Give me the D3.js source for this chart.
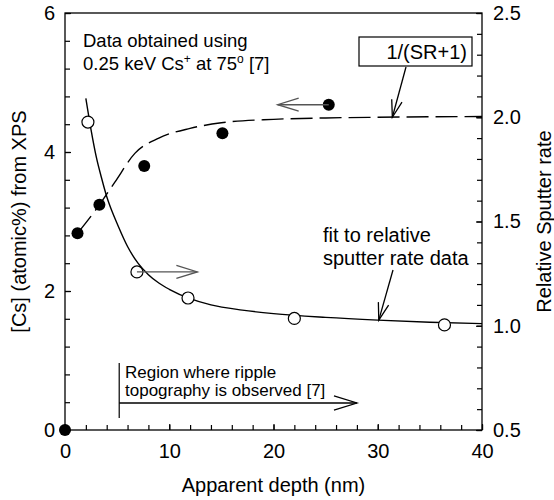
<!DOCTYPE html>
<html>
<head>
<meta charset="utf-8">
<script src="https://cdn.jsdelivr.net/npm/d3@7"></script>
<style>
  body { margin: 0; background: #fff; }
  text { font-family: "Liberation Sans", Arial, sans-serif; fill: #000; }
</style>
</head>
<body>
<svg id="chart" width="554" height="500"></svg>
<script>
// Cs concentration from XPS (filled dots, left axis)
const csDepth = [0, 1.2, 3.3, 7.6, 15.1, 25.3];
const csValue = [0, 2.83, 3.24, 3.8, 4.27, 4.68];

// relative sputter rate (open circles, right axis)
const srDepth = [2.2, 6.9, 11.8, 22.0, 36.4];
const srValue = [1.977, 1.258, 1.133, 1.035, 1.004];

// fit to relative sputter rate data
const fitDepth = [2.0, 2.5, 3, 3.5, 4, 4.5, 5, 6, 7, 8, 9, 10, 12, 14, 17, 20, 25, 30, 35, 40];
const fitValue = [2.09, 1.94, 1.81, 1.71, 1.62, 1.55, 1.49, 1.38, 1.3, 1.245, 1.205, 1.175, 1.13, 1.1, 1.075, 1.058, 1.04, 1.027, 1.017, 1.01];

// 1/(SR+1) curve, dashed, left axis
const invDepth = [1.2, 3.3, 4.8, 6.7, 9, 12, 15, 20, 25, 30, 40];
const invValue = [2.83, 3.24, 3.57, 3.98, 4.2, 4.34, 4.42, 4.47, 4.49, 4.5, 4.51];

const xTicks = [0, 10, 20, 30, 40];
const yLeftTicks = [0, 2, 4, 6];
const yRightTicks = [0.5, 1.0, 1.5, 2.0, 2.5];

const svg = d3.select("#chart");
const margin = {top: 13, right: 72, bottom: 70, left: 65};
const W = 554, H = 500;

const x = d3.scaleLinear().domain([0, 40]).range([margin.left, W - margin.right]);
const yL = d3.scaleLinear().domain([0, 6]).range([H - margin.bottom, margin.top]);
const yR = d3.scaleLinear().domain([0.5, 2.5]).range([H - margin.bottom, margin.top]);

// frame
svg.append("rect")
  .attr("x", margin.left).attr("y", margin.top)
  .attr("width", W - margin.left - margin.right)
  .attr("height", H - margin.top - margin.bottom)
  .attr("fill", "none").attr("stroke", "#000").attr("stroke-width", 1.3);

// axes with inward ticks
function styleAxis(g) {
  g.select(".domain").remove();
  g.selectAll("line").attr("stroke", "#000").attr("stroke-width", 1.2);
  g.selectAll("text").style("font-size", "20px").attr("font-family", "Liberation Sans, Arial, sans-serif");
}

const xMinor = d3.range(0, 41, 2);
svg.append("g").attr("transform", `translate(0,${H - margin.bottom})`)
  .call(d3.axisBottom(x).tickValues(xMinor).tickSize(-5).tickFormat(""))
  .call(styleAxis);
svg.append("g").attr("transform", `translate(0,${H - margin.bottom})`)
  .call(d3.axisBottom(x).tickValues(xTicks).tickSize(-6).tickPadding(14).tickFormat(d3.format("d")))
  .call(styleAxis);

const yLMinor = d3.range(0, 6.01, 0.4);
svg.append("g").attr("transform", `translate(${margin.left},0)`)
  .call(d3.axisLeft(yL).tickValues(yLMinor).tickSize(-5).tickFormat(""))
  .call(styleAxis);
svg.append("g").attr("transform", `translate(${margin.left},0)`)
  .call(d3.axisLeft(yL).tickValues(yLeftTicks).tickSize(-6).tickPadding(10).tickFormat(d3.format("d")))
  .call(styleAxis);

const yRMinor = d3.range(0.5, 2.51, 0.1);
svg.append("g").attr("transform", `translate(${W - margin.right},0)`)
  .call(d3.axisRight(yR).tickValues(yRMinor).tickSize(-5).tickFormat(""))
  .call(styleAxis);
svg.append("g").attr("transform", `translate(${W - margin.right},0)`)
  .call(d3.axisRight(yR).tickValues(yRightTicks).tickSize(-6).tickPadding(11).tickFormat(d3.format(".1f")))
  .call(styleAxis);

// axis titles
svg.append("text").attr("x", (margin.left + W - margin.right) / 2).attr("y", 492)
  .attr("text-anchor", "middle").style("font-size", "20px").text("Apparent depth (nm)");
svg.append("text").attr("transform", `translate(26,${(margin.top + H - margin.bottom) / 2}) rotate(-90)`)
  .attr("text-anchor", "middle").style("font-size", "20px").text("[Cs] (atomic%) from XPS");
svg.append("text").attr("transform", `translate(551,${(margin.top + H - margin.bottom) / 2}) rotate(-90)`)
  .attr("text-anchor", "middle").style("font-size", "20px").text("Relative Sputter rate");

// curves
const fitData = fitDepth.map((d, i) => [d, fitValue[i]]);
const invData = invDepth.map((d, i) => [d, invValue[i]]);

svg.append("path").datum(fitData)
  .attr("d", d3.line().x(d => x(d[0])).y(d => yR(d[1])).curve(d3.curveMonotoneX))
  .attr("fill", "none").attr("stroke", "#000").attr("stroke-width", 1.4);

svg.append("path").datum(invData)
  .attr("d", d3.line().x(d => x(d[0])).y(d => yL(d[1])).curve(d3.curveMonotoneX))
  .attr("fill", "none").attr("stroke", "#000").attr("stroke-width", 1.4)
  .attr("stroke-dasharray", "22,7");

// markers
svg.selectAll(".cs").data(csDepth).enter().append("circle")
  .attr("class", "cs")
  .attr("cx", d => x(d)).attr("cy", (d, i) => yL(csValue[i]))
  .attr("r", 6).attr("fill", "#000");

svg.selectAll(".sr").data(srDepth).enter().append("circle")
  .attr("class", "sr")
  .attr("cx", d => x(d)).attr("cy", (d, i) => yR(srValue[i]))
  .attr("r", 6).attr("fill", "#fff").attr("stroke", "#000").attr("stroke-width", 1.2);

// open V arrow: line from (x1,y1) to tip (x2,y2)
function arrow(x1, y1, x2, y2, color, headLen) {
  const a = Math.atan2(y2 - y1, x2 - x1);
  const h = headLen || 16, spread = 0.3;
  svg.append("line").attr("x1", x1).attr("y1", y1).attr("x2", x2).attr("y2", y2)
    .attr("stroke", color).attr("stroke-width", 1.3);
  svg.append("path")
    .attr("d", `M${x2 - h * Math.cos(a - spread)},${y2 - h * Math.sin(a - spread)}L${x2},${y2}L${x2 - h * Math.cos(a + spread)},${y2 - h * Math.sin(a + spread)}`)
    .attr("fill", "none").attr("stroke", color).attr("stroke-width", 1.3);
}

// Cs points point to left axis
arrow(x(csDepth[5]), yL(csValue[5]), x(20.4), yL(csValue[5]), "#555", 22);
// sputter points point to right axis
arrow(x(srDepth[1]), yR(srValue[1]), x(12.7), yR(srValue[1]), "#555", 22);

// 1/(SR+1) label box
svg.append("rect").attr("x", 359).attr("y", 37).attr("width", 113).attr("height", 29)
  .attr("fill", "#fff").attr("stroke", "#000").attr("stroke-width", 1.2);
svg.append("text").attr("x", 467).attr("y", 59).attr("text-anchor", "end")
  .style("font-size", "20px").text("1/(SR+1)");
arrow(406, 67, x(31.4), yL(4.5), "#000", 18);

// fit label
svg.append("text").attr("x", 323).attr("y", 242).style("font-size", "20px").text("fit to relative");
svg.append("text").attr("x", 323).attr("y", 265).style("font-size", "20px").text("sputter rate data");
arrow(393, 270, x(30.1), yR(1.027), "#000", 18);

// conditions note
svg.append("text").attr("x", 83).attr("y", 47).style("font-size", "18.5px").text("Data obtained using");
const t2 = svg.append("text").attr("x", 83).attr("y", 70).style("font-size", "18.5px");
t2.append("tspan").text("0.25 keV Cs");
t2.append("tspan").attr("baseline-shift", "super").style("font-size", "12px").text("+");
t2.append("tspan").text(" at 75");
t2.append("tspan").attr("baseline-shift", "super").style("font-size", "12px").text("o");
t2.append("tspan").text(" [7]");

// ripple region
svg.append("line").attr("x1", x(5.2)).attr("y1", 363).attr("x2", x(5.2)).attr("y2", 418)
  .attr("stroke", "#000").attr("stroke-width", 1.2);
arrow(x(5.2), 403, x(28), 403, "#000", 24);
svg.append("text").attr("x", 125).attr("y", 378).style("font-size", "17px").text("Region where ripple");
svg.append("text").attr("x", 125).attr("y", 396).style("font-size", "17px").text("topography is observed [7]");
</script>
</body>
</html>
